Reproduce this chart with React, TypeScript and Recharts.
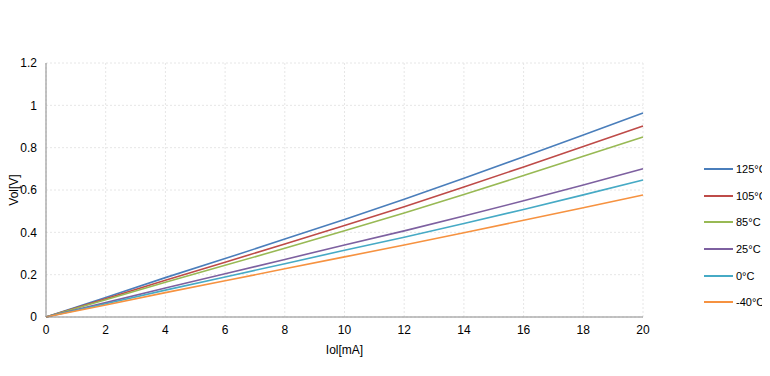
import React from 'react';
import { LineChart, Line, XAxis, YAxis, CartesianGrid } from 'recharts';

const currents = [0, 2, 4, 6, 8, 10, 12, 14, 16, 18, 20];
const v125 = [0, 0.092, 0.186, 0.276, 0.368, 0.461, 0.556, 0.655, 0.757, 0.86, 0.964];
const v105 = [0, 0.086, 0.174, 0.259, 0.345, 0.432, 0.521, 0.614, 0.709, 0.805, 0.902];
const v85 = [0, 0.081, 0.164, 0.244, 0.325, 0.407, 0.491, 0.579, 0.668, 0.759, 0.85];
const v25 = [0, 0.068, 0.137, 0.204, 0.272, 0.34, 0.407, 0.477, 0.549, 0.624, 0.7];
const v0 = [0, 0.063, 0.127, 0.189, 0.252, 0.315, 0.377, 0.442, 0.508, 0.577, 0.647];
const vm40 = [0, 0.057, 0.115, 0.171, 0.228, 0.284, 0.34, 0.398, 0.457, 0.516, 0.576];

const xTicks = [0, 2, 4, 6, 8, 10, 12, 14, 16, 18, 20];
const yTicks = [0, 0.2, 0.4, 0.6, 0.8, 1, 1.2];

const series = [
  { key: 's125', name: '125°C', values: v125, color: '#4a7ebb' },
  { key: 's105', name: '105°C', values: v105, color: '#be4b48' },
  { key: 's85', name: '85°C', values: v85, color: '#98b954' },
  { key: 's25', name: '25°C', values: v25, color: '#7d60a0' },
  { key: 's0', name: '0°C', values: v0, color: '#46aac5' },
  { key: 'sm40', name: '-40°C', values: vm40, color: '#f69240' },
];

const data = currents.map((x, i) => {
  const row: Record<string, number> = { x };
  series.forEach((s) => {
    row[s.key] = s.values[i];
  });
  return row;
});

const FONT = 'Liberation Sans, Arial, sans-serif';
const tickStyle = { fontSize: 12, fill: '#000', fontFamily: FONT };

export default function App() {
  return (
    <div style={{ position: 'relative', width: 754, height: 360, fontFamily: FONT }}>
      <LineChart width={754} height={360} data={data} margin={{ top: 55, right: 119, bottom: 11, left: 0 }}>
        <CartesianGrid stroke="#e6e6e6" strokeDasharray="2 2" />
        <XAxis
          dataKey="x"
          type="number"
          domain={[0, 20]}
          ticks={xTicks}
          tickLine={false}
          tickSize={6}
          tickMargin={2}
          height={40}
          axisLine={{ stroke: '#888' }}
          tick={tickStyle}
          label={{
            content: (p: any) => (
              <text x={p.viewBox.x + p.viewBox.width / 2} y={p.viewBox.y + 37} textAnchor="middle" fontSize={12} fontFamily={FONT} fill="#000">
                Iol[mA]
              </text>
            ),
          }}
        />
        <YAxis
          type="number"
          domain={[0, 1.2]}
          ticks={yTicks}
          tickLine={false}
          tickSize={6}
          tickMargin={3}
          width={38}
          axisLine={{ stroke: '#888' }}
          tick={tickStyle}
          label={{
            content: (p: any) => {
              const cx = 6;
              const cy = p.viewBox.y + p.viewBox.height / 2;
              return (
                <text x={cx} y={cy} transform={`rotate(-90 ${cx} ${cy})`} textAnchor="middle" dominantBaseline="central" fontSize={12} fontFamily={FONT} fill="#000">
                  Vol[V]
                </text>
              );
            },
          }}
        />
        {series.map((s) => (
          <Line key={s.key} dataKey={s.key} name={s.name} stroke={s.color} strokeWidth={1.6} dot={false} type="linear" isAnimationActive={false} />
        ))}
      </LineChart>
      <div style={{ position: 'absolute', left: 696, top: 148 }}>
        {series.map((s) => (
          <div key={s.key} style={{ display: 'flex', alignItems: 'center', height: 26.6, whiteSpace: 'nowrap' }}>
            <div style={{ width: 29, height: 2, background: s.color, marginRight: 3, flexShrink: 0 }} />
            <span style={{ fontSize: 11, color: '#000' }}>{s.name}</span>
          </div>
        ))}
      </div>
    </div>
  );
}
